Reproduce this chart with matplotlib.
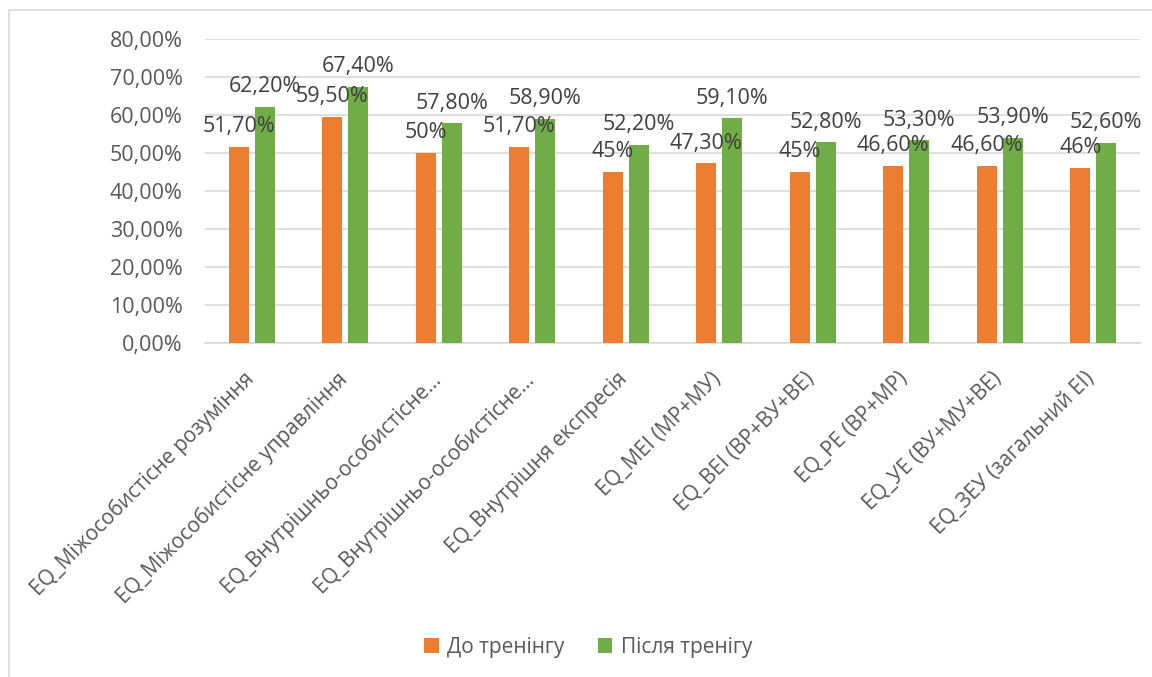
import matplotlib
matplotlib.use("Agg")
import matplotlib.pyplot as plt
import matplotlib.transforms as mtransforms
import numpy as np
from matplotlib.patches import Rectangle
from matplotlib.ticker import FuncFormatter

plt.rcParams['font.family'] = ['Open Sans', 'DejaVu Sans']

categories = [
    "EQ_Міжособистісне розуміння",
    "EQ_Міжособистісне управління",
    "EQ_Внутрішньо-особистісне…",
    "EQ_Внутрішньо-особистісне…",
    "EQ_Внутрішня експресія",
    "EQ_МЕІ (МР+МУ)",
    "EQ_ВЕІ (ВР+ВУ+ВЕ)",
    "EQ_РЕ (ВР+МР)",
    "EQ_УЕ (ВУ+МУ+ВЕ)",
    "EQ_ЗЕУ (загальний ЕІ)",
]
before = [51.7, 59.5, 50.0, 51.7, 45.0, 47.3, 45.0, 46.6, 46.6, 46.0]
after = [62.2, 67.4, 57.8, 58.9, 52.2, 59.1, 52.8, 53.3, 53.9, 52.6]
series_names = ["До тренінгу", "Після тренігу"]
colors = ["#ED7D31", "#70AD47"]


def fmt_label(v):
    if abs(v - round(v)) < 1e-9:
        return f"{int(round(v))}%"
    return f"{v:.2f}".replace(".", ",") + "%"


fig = plt.figure(figsize=(11.52, 6.77), dpi=100)
ax = fig.add_axes([205 / 1152, 1 - 343 / 677, (1140 - 205) / 1152, (343 - 39) / 677])

# chart-area frame
fig.patches.append(Rectangle((9 / 1152, -0.01), 1.1, 1 - 10 / 677 + 0.01,
                             transform=fig.transFigure, fill=False,
                             edgecolor="#d9d9d9", linewidth=1.2))

x = np.arange(len(categories))
w = 0.214
gap = 0.064
off = (w + gap) / 2
b1 = ax.bar(x - off, before, width=w, color=colors[0], label=series_names[0], zorder=3)
b2 = ax.bar(x + off, after, width=w, color=colors[1], label=series_names[1], zorder=3)

for bars, vals in ((b1, before), (b2, after)):
    for rect, v in zip(bars, vals):
        ax.annotate(fmt_label(v), (rect.get_x() + rect.get_width() / 2, v),
                    xytext=(0, 7), textcoords="offset points",
                    ha="center", va="bottom", fontsize=15.5, color="#404040", zorder=4)

ax.set_ylim(0, 80)
ax.set_xlim(-0.5, len(categories) - 0.5)
ax.set_yticks(np.arange(0, 81, 10))
ax.yaxis.set_major_formatter(FuncFormatter(lambda v, p: f"{v:.2f}".replace(".", ",") + "%"))
ax.grid(axis="y", color="#d9d9d9", linewidth=1.2, zorder=0)
for s in ("top", "right", "left"):
    ax.spines[s].set_visible(False)
ax.spines["bottom"].set_color("#d9d9d9")
ax.spines["bottom"].set_linewidth(1.2)
ax.tick_params(axis="y", length=0, labelsize=15.5, labelcolor="#595959", pad=16)
ax.tick_params(axis="x", length=0, labelsize=15, labelcolor="#595959", pad=18)
ax.set_xticks(x)
ax.set_xticklabels(categories, rotation=45, ha="right", rotation_mode="anchor")
shift = mtransforms.ScaledTranslation(-9 / 100, 0, fig.dpi_scale_trans)
for lbl in ax.get_xticklabels():
    lbl.set_transform(lbl.get_transform() + shift)

fig.legend(handles=[b1, b2], labels=series_names, loc="center",
           bbox_to_anchor=(588 / 1152, 1 - 647 / 677), ncol=2, frameon=False,
           fontsize=15, labelcolor="#595959", handlelength=0.7, handleheight=0.7,
           columnspacing=1.6, handletextpad=0.4)

fig.savefig("out.png", dpi=100)
